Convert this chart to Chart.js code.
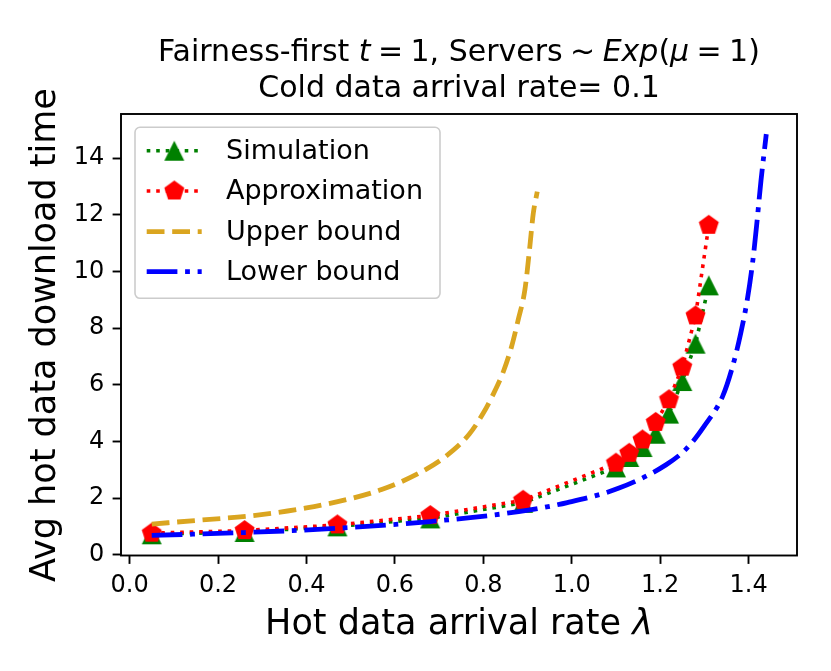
<!DOCTYPE html>
<html>
<head>
<meta charset="utf-8">
<script src="https://cdn.jsdelivr.net/npm/chart.js@4.4.0/dist/chart.umd.min.js"></script>
<style>
  body { margin: 0; background: #fff; }
  #wrap { width: 831px; height: 671px; }
</style>
</head>
<body>
<div id="wrap"><canvas id="chart" width="831" height="671"></canvas></div>
<script>
// Values
const lambdas = [0.05, 0.26, 0.47, 0.68, 0.89, 1.10, 1.13, 1.16, 1.19, 1.22, 1.25, 1.28, 1.31];
const simulation = [0.72, 0.80, 1.00, 1.28, 1.83, 3.08, 3.45, 3.80, 4.27, 4.98, 6.13, 7.45, 9.51];
const approximation = [0.76, 0.85, 1.05, 1.38, 1.92, 3.23, 3.58, 4.05, 4.67, 5.47, 6.62, 8.43, 11.63];

const upperX = [0.05, 0.16, 0.28, 0.40, 0.50, 0.57, 0.655, 0.715, 0.768, 0.80, 0.822, 0.845, 0.864, 0.879, 0.894, 0.905, 0.913, 0.922];
const upperY = [1.08, 1.22, 1.38, 1.65, 1.98, 2.30, 2.88, 3.47, 4.25, 5.00, 5.65, 6.45, 7.35, 8.30, 9.35, 10.85, 12.05, 12.82];

const lowerX = [0.05, 0.26, 0.47, 0.68, 0.88, 0.99, 1.107, 1.213, 1.26, 1.30, 1.341, 1.363, 1.382, 1.397, 1.409, 1.418, 1.428, 1.44];
const lowerY = [0.68, 0.78, 0.93, 1.17, 1.52, 1.84, 2.35, 3.17, 3.75, 4.55, 5.58, 6.60, 7.80, 9.00, 10.30, 11.60, 13.20, 14.85];

const xTicks = [0.0, 0.2, 0.4, 0.6, 0.8, 1.0, 1.2, 1.4];
const yTicks = [0, 2, 4, 6, 8, 10, 12, 14];

const FONT = "'DejaVu Sans', sans-serif";

function pairs(xs, ys) {
    return xs.map((x, i) => ({ x: x, y: ys[i] }));
}

// marker images, centred like matplotlib markers
function triangleMarker(color, s) {
    const c = document.createElement('canvas');
    c.width = c.height = 2 * s + 2;
    const g = c.getContext('2d');
    const m = s + 1;
    g.fillStyle = color;
    g.beginPath();
    g.moveTo(m, m - s);
    g.lineTo(m - s, m + s);
    g.lineTo(m + s, m + s);
    g.closePath();
    g.fill();
    return c;
}

function pentagonMarker(color, r) {
    const c = document.createElement('canvas');
    c.width = c.height = 2 * r + 2;
    const g = c.getContext('2d');
    const m = r + 1;
    g.fillStyle = color;
    g.beginPath();
    for (let i = 0; i < 5; i++) {
        const a = -Math.PI / 2 + i * 2 * Math.PI / 5;
        const px = m + r * Math.cos(a);
        const py = m + r * Math.sin(a);
        if (i === 0) g.moveTo(px, py); else g.lineTo(px, py);
    }
    g.closePath();
    g.fill();
    return c;
}

const triImg = triangleMarker('#008000', 10);
const pentImg = pentagonMarker('#ff0000', 10.5);

// parts: [text, 'n'|'i'] or a number = gap in px
function drawMixed(ctx, parts, cx, y, size) {
    const width = p => {
        if (typeof p === 'number') return p;
        ctx.font = (p[1] === 'i' ? 'italic ' : '') + size + 'px ' + FONT;
        return ctx.measureText(p[0]).width;
    };
    let total = 0;
    parts.forEach(p => { total += width(p); });
    let x = cx - total / 2;
    ctx.textAlign = 'left';
    ctx.textBaseline = 'alphabetic';
    parts.forEach(p => {
        const w = width(p);
        if (typeof p !== 'number') ctx.fillText(p[0], x, y);
        x += w;
    });
}

// title, axis labels, frame and legend
const decorations = {
    id: 'decorations',
    afterDraw(chart) {
        const ctx = chart.ctx;
        const area = chart.chartArea;
        const cx = (area.left + area.right) / 2;
        ctx.save();
        ctx.fillStyle = '#000';

        const g = 7.4;
        drawMixed(ctx, [['Fairness-first ', 'n'], ['t', 'i'], g, ['=', 'n'], g, ['1, Servers', 'n'], g, ['~', 'n'], g,
            ['Exp', 'i'], ['(', 'n'], ['μ', 'i'], g, ['=', 'n'], g, ['1)', 'n']], cx, 60.5, 30);
        drawMixed(ctx, [['Cold data arrival rate= 0.1', 'n']], cx, 96.5, 30);

        drawMixed(ctx, [['Hot data arrival rate ', 'n'], ['λ', 'i']], cx, 634, 35);

        ctx.save();
        ctx.translate(54.5, 335);
        ctx.rotate(-Math.PI / 2);
        drawMixed(ctx, [['Avg hot data download time', 'n']], 0, 0, 35);
        ctx.restore();

        // axes frame
        ctx.strokeStyle = '#000';
        ctx.lineWidth = 1.9;
        ctx.strokeRect(area.left, area.top, area.right - area.left, area.bottom - area.top);

        // legend
        const lx = 135, ly = 127.3, lw = 305, lh = 171;
        ctx.fillStyle = 'rgba(255,255,255,0.8)';
        ctx.strokeStyle = '#cccccc';
        ctx.lineWidth = 1.6;
        ctx.beginPath();
        ctx.roundRect(lx, ly, lw, lh, 5);
        ctx.fill();
        ctx.stroke();

        const rowY = [150.7, 191, 231.7, 271.7];
        chart.data.datasets.forEach((ds, i) => {
            const y = rowY[i];
            ctx.strokeStyle = ds.borderColor;
            ctx.lineWidth = ds.borderWidth;
            ctx.setLineDash(ds.borderDash || []);
            ctx.lineCap = 'butt';
            ctx.beginPath();
            ctx.moveTo(146.7, y);
            ctx.lineTo(201.7, y);
            ctx.stroke();
            ctx.setLineDash([]);
            if (ds.pointStyle instanceof HTMLCanvasElement) {
                const img = ds.pointStyle;
                ctx.drawImage(img, 174.3 - img.width / 2, y - img.height / 2);
            }
            ctx.fillStyle = '#000';
            ctx.font = '27px ' + FONT;
            ctx.textAlign = 'left';
            ctx.textBaseline = 'middle';
            ctx.fillText(ds.label, 226, y + 1);
        });
        ctx.restore();
    }
};

const ctx = document.getElementById('chart').getContext('2d');
const chart = new Chart(ctx, {
    type: 'line',
    data: {
        datasets: [{
            label: 'Simulation',
            data: pairs(lambdas, simulation),
            borderColor: '#008000',
            borderWidth: 3.6,
            borderDash: [3.6, 5.9],
            pointStyle: triImg,
            pointRadius: 10,
            tension: 0,
            order: 4
        }, {
            label: 'Approximation',
            data: pairs(lambdas, approximation),
            borderColor: '#ff0000',
            borderWidth: 3.6,
            borderDash: [3.6, 5.9],
            pointStyle: pentImg,
            pointRadius: 10,
            tension: 0,
            order: 3
        }, {
            label: 'Upper bound',
            data: pairs(upperX, upperY),
            borderColor: '#daa520',
            borderWidth: 4.8,
            borderDash: [17.8, 7.7],
            pointRadius: 0,
            cubicInterpolationMode: 'monotone',
            order: 2
        }, {
            label: 'Lower bound',
            data: pairs(lowerX, lowerY),
            borderColor: '#0000ff',
            borderWidth: 4.8,
            borderDash: [30.7, 7.7, 4.8, 7.7],
            pointRadius: 0,
            cubicInterpolationMode: 'monotone',
            order: 1
        }]
    },
    options: {
        responsive: false,
        animation: false,
        layout: { padding: { top: 114, right: 34, left: 0, bottom: 0 } },
        plugins: {
            legend: { display: false },
            tooltip: { enabled: false },
            title: { display: false }
        },
        scales: {
            x: {
                type: 'linear',
                min: -0.0195,
                max: 1.5095,
                afterBuildTicks: scale => { scale.ticks = xTicks.map(v => ({ value: v })); },
                afterFit: scale => { scale.height = 115.5; },
                border: { display: false },
                grid: { drawOnChartArea: false, drawTicks: true, tickLength: 8.4, tickWidth: 1.9, tickColor: '#000' },
                ticks: {
                    color: '#000',
                    font: { family: FONT, size: 24 },
                    padding: 7,
                    maxRotation: 0,
                    autoSkip: false,
                    callback: v => Number(v).toFixed(1)
                }
            },
            y: {
                type: 'linear',
                min: -0.03,
                max: 15.56,
                afterBuildTicks: scale => { scale.ticks = yTicks.map(v => ({ value: v })); },
                afterFit: scale => { scale.width = 121; },
                border: { display: false },
                grid: { drawOnChartArea: false, drawTicks: true, tickLength: 8.4, tickWidth: 1.9, tickColor: '#000' },
                ticks: {
                    color: '#000',
                    font: { family: FONT, size: 24 },
                    padding: 8.4,
                    autoSkip: false,
                    callback: v => String(v)
                }
            }
        }
    },
    plugins: [decorations]
});
</script>
</body>
</html>
